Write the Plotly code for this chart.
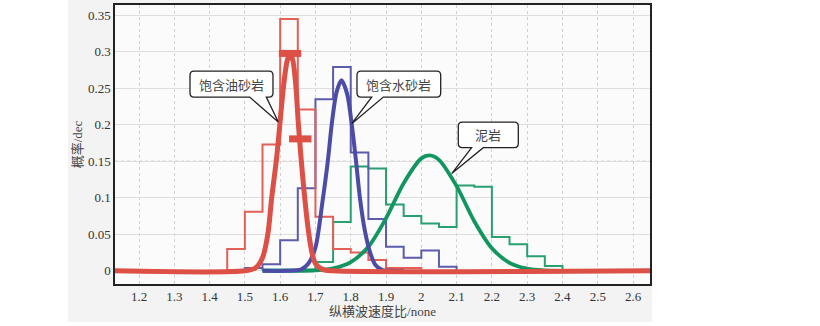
import plotly.graph_objects as go

# ---------------- data ----------------
oil_edges = [1.45, 1.50, 1.55, 1.60, 1.65, 1.70, 1.75, 1.80, 1.85, 1.90, 1.95, 2.00]
oil_hist = [0.030, 0.081, 0.173, 0.345, 0.221, 0.074, 0.030, 0.025, 0.015, 0.004, 0.004]

water_edges = [1.50, 1.55, 1.60, 1.65, 1.70, 1.75, 1.80, 1.85, 1.90, 1.95, 2.00, 2.05, 2.10]
water_hist = [0.004, 0.009, 0.042, 0.113, 0.235, 0.279, 0.162, 0.071, 0.033, 0.018, 0.028, 0.0055]

mud_edges = [1.55, 1.60, 1.65, 1.70, 1.75, 1.80, 1.85, 1.90, 1.95, 2.00, 2.05, 2.10,
             2.15, 2.20, 2.25, 2.30, 2.35, 2.40]
mud_hist = [0.002, 0.002, 0.002, 0.012, 0.067, 0.143, 0.140, 0.091, 0.075, 0.065, 0.060,
            0.117, 0.115, 0.0465, 0.0365, 0.020, 0.0068]

oil_curve_x = [1.13, 1.50, 1.53, 1.55, 1.565, 1.576, 1.59, 1.60, 1.61, 1.62, 1.628,
               1.636, 1.645, 1.651, 1.66, 1.67, 1.68, 1.69, 1.70, 1.72, 1.75, 2.65]
oil_curve_y = [0.0, 0.0, 0.004, 0.018, 0.05, 0.10, 0.155, 0.205, 0.255, 0.288, 0.298,
               0.288, 0.250, 0.205, 0.150, 0.098, 0.055, 0.025, 0.010, 0.002, 0.0, 0.0]

water_curve_x = [1.55, 1.62, 1.66, 1.68, 1.70, 1.72, 1.735, 1.746, 1.76, 1.774, 1.79,
                 1.803, 1.815, 1.826, 1.84, 1.855, 1.87, 1.89, 1.92, 1.95]
water_curve_y = [0.0, 0.0, 0.002, 0.010, 0.032, 0.095, 0.150, 0.200, 0.245, 0.261, 0.242,
                 0.200, 0.150, 0.100, 0.055, 0.025, 0.008, 0.001, 0.0, 0.0]

mud_curve_x = [1.55, 1.65, 1.70, 1.75, 1.80, 1.85, 1.90, 1.95, 2.00, 2.023, 2.05, 2.10,
               2.15, 2.20, 2.25, 2.30, 2.35, 2.40]
mud_curve_y = [0.0, 0.0, 0.0007, 0.0033, 0.012, 0.033, 0.072, 0.120, 0.154, 0.158, 0.152,
               0.116, 0.068, 0.031, 0.011, 0.003, 0.0006, 0.0]

marker_x = [1.628, 1.657]
marker_y = [0.2977, 0.1807]

x_ticks = [1.2, 1.3, 1.4, 1.5, 1.6, 1.7, 1.8, 1.9, 2.0, 2.1, 2.2, 2.3, 2.4, 2.5, 2.6]
x_tick_text = ["1.2", "1.3", "1.4", "1.5", "1.6", "1.7", "1.8", "1.9", "2", "2.1", "2.2",
               "2.3", "2.4", "2.5", "2.6"]
y_ticks = [0, 0.05, 0.1, 0.15, 0.2, 0.25, 0.3, 0.35]
y_tick_text = ["0", "0.05", "0.1", "0.15", "0.2", "0.25", "0.3", "0.35"]

labels = ["饱含油砂岩", "饱含水砂岩", "泥岩"]
x_title = "纵横波速度比/none"
y_title = "概率/dec"

RED_H = "rgb(226,96,86)"
RED_C = "rgb(220,80,70)"
BLUE_H = "rgb(92,92,172)"
BLUE_C = "rgb(76,76,166)"
GREEN_H = "rgb(40,160,112)"
GREEN_C = "rgb(18,150,96)"


def step_xy(edges, vals):
    xs = [edges[0]] + edges[:len(vals)] + [edges[len(vals)]]
    ys = [0.0] + vals + [0.0]
    return xs, ys


fig = go.Figure()

for edges, vals, col in [(mud_edges, mud_hist, GREEN_H),
                         (water_edges, water_hist, BLUE_H),
                         (oil_edges, oil_hist, RED_H)]:
    xs, ys = step_xy(edges, vals)
    fig.add_trace(go.Scatter(x=xs, y=ys, mode="lines",
                             line=dict(color=col, width=2, shape="hv"),
                             hoverinfo="skip", showlegend=False))

fig.add_trace(go.Scatter(x=mud_curve_x, y=mud_curve_y, mode="lines",
                         line=dict(color=GREEN_C, width=3.8, shape="spline", smoothing=0.8),
                         showlegend=False))
fig.add_trace(go.Scatter(x=water_curve_x, y=water_curve_y, mode="lines",
                         line=dict(color=BLUE_C, width=4, shape="spline", smoothing=0.8),
                         showlegend=False))
fig.add_trace(go.Scatter(x=oil_curve_x, y=oil_curve_y, mode="lines",
                         line=dict(color=RED_C, width=5, shape="spline", smoothing=0.8),
                         showlegend=False))
fig.add_trace(go.Scatter(x=marker_x, y=marker_y, mode="markers",
                         marker=dict(symbol="line-ew", size=16,
                                     line=dict(color=RED_C, width=7)),
                         showlegend=False))

# ---- callout shapes (positions in data coordinates) ----
def callout(x0, x1, y0, y1, b1, b2, tx, ty, rx=0.011, ry=0.0055):
    return (f"M {x0+rx},{y1} L {x1-rx},{y1} Q {x1},{y1} {x1},{y1-ry} "
            f"L {x1},{y0+ry} Q {x1},{y0} {x1-rx},{y0} L {b2},{y0} L {tx},{ty} "
            f"L {b1},{y0} L {x0+rx},{y0} Q {x0},{y0} {x0},{y0+ry} "
            f"L {x0},{y1-ry} Q {x0},{y1} {x0+rx},{y1} Z")


boxes = [
    (1.3445, 1.5797, 0.2379, 0.2734, 1.5137, 1.5608, 1.5947, 0.2037),
    (1.8177, 2.0549, 0.2379, 0.2734, 1.8594, 1.8923, 1.8027, 0.2015),
    (2.1048, 2.2748, 0.1687, 0.2037, 2.1425, 2.1755, 2.0861, 0.1332),
]
shapes = []
annotations = []

# gray panel behind the chart, then the near-white plot area on top of it
shapes.append(dict(type="rect", xref="paper", yref="paper", x0=-0.088, x1=1.004, y0=-0.136, y1=1.02,
                   fillcolor="rgb(243,243,243)", line=dict(width=0), layer="below"))
shapes.append(dict(type="rect", xref="paper", yref="paper", x0=0, x1=1, y0=0, y1=1,
                   fillcolor="rgb(251,251,251)", line=dict(width=0), layer="below"))
# dotted line at 0.15
shapes.append(dict(type="line", xref="paper", yref="y", x0=0, x1=1, y0=0.15, y1=0.15,
                   line=dict(color="#999", width=1, dash="dot"), layer="below"))

for (x0, x1, y0, y1, b1, b2, tx, ty), lab in zip(boxes, labels):
    shapes.append(dict(type="path", xref="x", yref="y", path=callout(x0, x1, y0, y1, b1, b2, tx, ty),
                       fillcolor="white", line=dict(color="#222", width=1.3), layer="above"))
    annotations.append(dict(x=(x0 + x1) / 2, y=(y0 + y1) / 2, xref="x", yref="y", text=lab,
                            showarrow=False,
                            font=dict(family="Noto Sans CJK SC", size=13, color="#444")))

font_main = "Liberation Serif, Noto Sans CJK SC"

fig.update_layout(
    width=820, height=326,
    margin=dict(l=115, r=170, t=5, b=42),
    paper_bgcolor="white",
    plot_bgcolor="rgba(0,0,0,0)",
    shapes=shapes,
    annotations=annotations,
    font=dict(family=font_main, size=13, color="#333"),
    xaxis=dict(range=[1.132, 2.648], tickvals=x_ticks, ticktext=x_tick_text,
               showgrid=True, gridcolor="#d0d0d0", griddash="dot", gridwidth=1,
               zeroline=False, showline=True, mirror=True, linecolor="#222", linewidth=1.5,
               ticks="", automargin=False,
               title=dict(text=x_title, standoff=4,
                          font=dict(family=font_main, size=13, color="#444")),
               tickfont=dict(family=font_main, size=13, color="#333")),
    yaxis=dict(range=[-0.018, 0.364], tickvals=y_ticks, ticktext=y_tick_text,
               showgrid=True, gridcolor="#dedede", gridwidth=1,
               zeroline=False, showline=True, mirror=True, linecolor="#222", linewidth=1.5,
               ticks="", automargin=False,
               title=dict(text=y_title, standoff=2,
                          font=dict(family=font_main, size=13, color="#444")),
               tickfont=dict(family=font_main, size=13, color="#333")),
)

fig.write_html("out.html", config={"displayModeBar": False},
               post_script="document.body.style.margin='0';")
